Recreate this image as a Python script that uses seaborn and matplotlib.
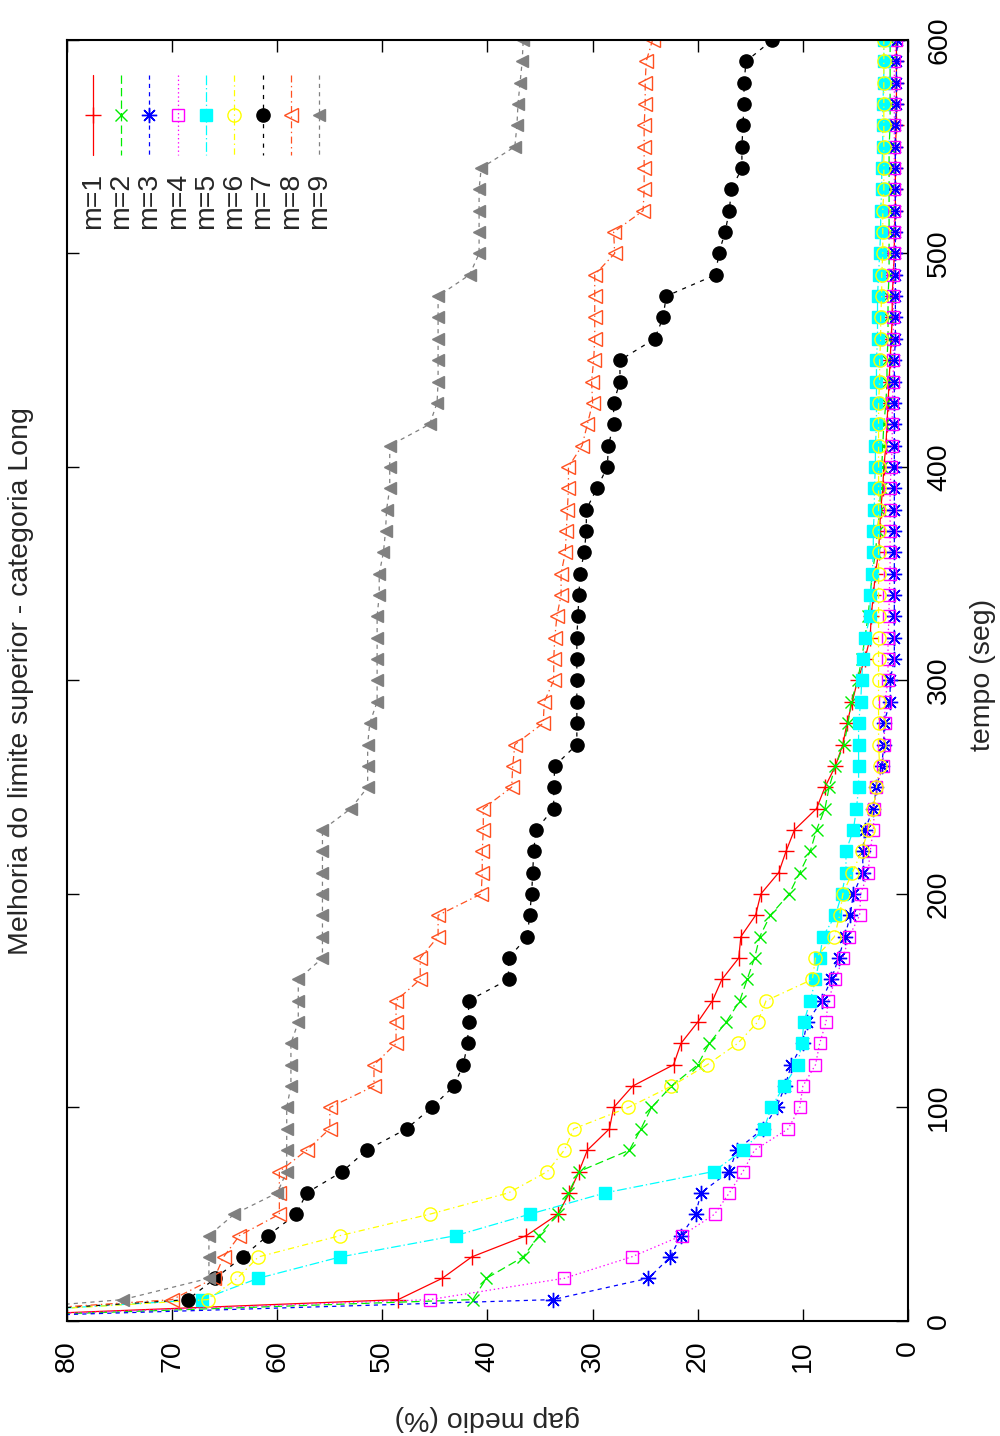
import matplotlib
matplotlib.use("Agg")
import matplotlib.pyplot as plt
import seaborn as sns

# tempo (seg), a cada 10 s
tempo = list(range(0, 610, 10))

# gap medio (%) por serie; 1o valor (t=0) fica fora da escala
gap_m1 = [100,
          48.5, 44.3, 41.5, 36.3, 33.3, 32.2, 31.3, 30.5, 28.4, 28.0,
          26.2, 22.3, 21.6, 20.0, 18.6, 17.7, 16.1, 15.9, 14.5, 14.0,
          12.3, 11.6, 10.8, 8.7, 7.9, 6.9, 6.2, 5.8, 5.3, 4.8,
          4.1, 3.6, 3.5, 3.3, 3.1, 2.8, 2.7, 2.6, 2.4, 2.3,
          2.1, 2.0, 1.9, 1.8, 1.7, 1.6, 1.5, 1.5, 1.4, 1.3,
          1.3, 1.2, 1.2, 1.2, 1.2, 1.1, 1.1, 1.1, 1.1, 1.1]
gap_m2 = [100,
          41.4, 40.1, 36.6, 35.1, 33.3, 32.3, 31.3, 26.5, 25.4, 24.4,
          22.5, 20.0, 18.9, 17.3, 16.0, 15.3, 14.6, 14.1, 13.1, 11.3,
          10.3, 9.3, 8.7, 7.9, 7.5, 6.9, 6.1, 5.7, 5.4, 4.8,
          4.4, 4.1, 3.8, 3.6, 3.4, 3.1, 2.9, 2.7, 2.6, 2.5,
          2.4, 2.3, 2.1, 2.0, 2.0, 1.9, 1.9, 1.9, 1.8, 1.8,
          1.8, 1.8, 1.8, 1.8, 1.8, 1.7, 1.7, 1.7, 1.7, 1.7]
gap_m3 = [100,
          33.8, 24.7, 22.6, 21.6, 20.2, 19.7, 17.0, 16.3, 13.8, 12.5,
          11.7, 11.1, 10.0, 9.6, 8.2, 7.3, 6.6, 6.0, 5.5, 5.2,
          4.3, 4.3, 4.1, 3.3, 3.0, 2.5, 2.3, 2.3, 1.7, 1.7,
          1.3, 1.3, 1.3, 1.3, 1.3, 1.3, 1.3, 1.3, 1.3, 1.3,
          1.3, 1.3, 1.3, 1.3, 1.3, 1.2, 1.2, 1.2, 1.2, 1.2,
          1.2, 1.2, 1.2, 1.2, 1.2, 1.2, 1.1, 1.1, 1.1, 1.0]
gap_m4 = [100,
          45.5, 32.7, 26.3, 21.5, 18.4, 17.0, 15.7, 14.6, 11.4, 10.3,
          10.0, 8.8, 8.4, 7.8, 7.6, 6.9, 6.2, 5.6, 4.6, 4.5,
          3.8, 3.6, 3.3, 3.2, 3.0, 2.4, 2.3, 2.2, 2.2, 1.9,
          1.9, 1.9, 1.8, 1.8, 1.7, 1.7, 1.7, 1.7, 1.7, 1.6,
          1.5, 1.5, 1.5, 1.4, 1.4, 1.4, 1.4, 1.4, 1.4, 1.3,
          1.3, 1.3, 1.3, 1.3, 1.3, 1.3, 1.3, 1.3, 1.3, 1.1]
gap_m5 = [100,
          67.2, 61.8, 54.0, 43.0, 36.0, 28.8, 18.5, 15.7, 13.7, 13.0,
          11.8, 10.5, 10.1, 9.9, 9.3, 8.8, 8.4, 8.1, 6.9, 6.3,
          5.9, 5.9, 5.2, 4.9, 4.7, 4.7, 4.7, 4.7, 4.5, 4.4,
          4.3, 4.1, 3.6, 3.6, 3.4, 3.3, 3.3, 3.2, 3.2, 3.1,
          3.1, 3.0, 3.0, 3.0, 3.0, 2.9, 2.9, 2.9, 2.8, 2.7,
          2.6, 2.6, 2.5, 2.5, 2.4, 2.4, 2.4, 2.3, 2.3, 2.3]
gap_m6 = [100,
          66.6, 63.8, 61.8, 54.0, 45.5, 38.0, 34.3, 32.7, 31.8, 26.6,
          22.5, 19.1, 16.2, 14.3, 13.5, 9.1, 8.8, 7.0, 6.5, 6.2,
          5.3, 4.4, 3.8, 3.3, 3.0, 2.7, 2.8, 2.8, 2.8, 2.8,
          2.8, 2.8, 2.8, 2.8, 2.8, 2.8, 2.8, 2.8, 2.8, 2.8,
          2.8, 2.8, 2.8, 2.7, 2.7, 2.6, 2.6, 2.5, 2.5, 2.4,
          2.4, 2.4, 2.3, 2.3, 2.3, 2.3, 2.3, 2.3, 2.3, 2.3]
gap_m7 = [100,
          68.5, 65.9, 63.3, 60.9, 58.2, 57.2, 53.8, 51.5, 47.7, 45.3,
          43.2, 42.3, 41.9, 41.8, 41.8, 38.0, 38.0, 36.2, 36.0, 35.8,
          35.7, 35.6, 35.4, 33.7, 33.7, 33.6, 31.5, 31.5, 31.5, 31.5,
          31.5, 31.5, 31.4, 31.3, 31.2, 30.8, 30.6, 30.6, 29.6, 28.6,
          28.5, 28.0, 28.0, 27.4, 27.4, 24.1, 23.3, 23.0, 18.3, 18.0,
          17.4, 17.0, 16.8, 15.8, 15.8, 15.7, 15.6, 15.6, 15.4, 12.9]
gap_m8 = [100,
          70.0, 66.0, 65.1, 63.6, 59.8, 59.8, 59.8, 57.2, 55.0, 55.0,
          50.8, 50.8, 48.7, 48.7, 48.7, 46.4, 46.4, 44.7, 44.7, 40.6,
          40.5, 40.5, 40.4, 40.4, 37.7, 37.6, 37.4, 34.7, 34.6, 33.7,
          33.7, 33.6, 33.4, 33.0, 33.0, 32.6, 32.5, 32.4, 32.3, 32.3,
          31.0, 30.5, 30.0, 30.1, 29.9, 29.8, 29.8, 29.8, 29.8, 27.9,
          28.0, 25.2, 25.1, 25.1, 25.1, 25.1, 25.0, 25.0, 24.9, 24.3]
gap_m9 = [100,
          74.7, 66.5, 66.5, 66.5, 64.1, 60.0, 59.1, 59.1, 59.1, 59.1,
          58.7, 58.7, 58.7, 58.0, 58.0, 58.0, 55.7, 55.7, 55.7, 55.7,
          55.7, 55.7, 55.7, 53.0, 51.4, 51.4, 51.4, 51.2, 50.5, 50.5,
          50.5, 50.5, 50.5, 50.3, 50.3, 49.9, 49.7, 49.6, 49.3, 49.3,
          49.3, 45.5, 44.8, 44.7, 44.7, 44.7, 44.7, 44.7, 41.7, 40.8,
          40.8, 40.8, 40.8, 40.6, 37.4, 37.2, 37.1, 36.9, 36.7, 36.6]

rotulos = ["m=1", "m=2", "m=3", "m=4", "m=5", "m=6", "m=7", "m=8", "m=9"]
gaps = [gap_m1, gap_m2, gap_m3, gap_m4, gap_m5, gap_m6, gap_m7, gap_m8, gap_m9]

#%% estilo tipo gnuplot (postscript)
cores = ["#ff0000", "#00ee00", "#0000ff", "#ff00ff", "#00ffff",
         "#ffff00", "#000000", "#ff5020", "#808080"]
tracos = ["-", (0, (6, 3)), (0, (3, 3)), (0, (1, 2)), (0, (7, 2, 1, 2)),
          (0, (4.5, 2.5, 1, 2.5)), (0, (3, 4)), (0, (5, 2.5, 1, 2.5)), (0, (3, 3))]
marcas = ["+", "x", (8, 2, 0), "s", "s", "o", "o", "<", "<"]
preench = ["none", "none", "none", "none", "fill", "none", "fill", "none", "fill"]
tam = [11, 9, 11, 9, 9, 9.5, 9.5, 9.5, 9]

FS = 20.5

sns.set_style("ticks")
plt.rcParams['font.family'] = ['Liberation Sans', 'DejaVu Sans']
plt.rcParams['lines.scale_dashes'] = False

fig = plt.figure(figsize=(10, 14.36), dpi=100)
ax = fig.add_axes([0.067, 0.0801, 0.841, 0.8921])

for i in range(9):
    fc = cores[i] if preench[i] == "fill" else "none"
    sns.lineplot(x=gaps[i], y=tempo, sort=False, estimator=None, ax=ax,
                 color=cores[i], linestyle=tracos[i], linewidth=0.9,
                 marker=marcas[i], markersize=tam[i], markerfacecolor=fc,
                 markeredgecolor=cores[i], markeredgewidth=1.0, legend=False)

ax.set_xlim(80, 0)
ax.set_ylim(0, 600)
ax.set_xticks(range(0, 81, 10))
ax.set_yticks(range(0, 601, 100))
ax.tick_params(direction='in', length=8.5, width=1.0, top=True, bottom=True,
               left=True, right=True, labelsize=FS, colors='black')
ax.tick_params(axis='y', labelleft=False, labelright=True, labelrotation=90, pad=13)
ax.tick_params(axis='x', labelrotation=90, pad=14)
for lbl in ax.get_yticklabels():
    lbl.set_va('center')
for s in ax.spines.values():
    s.set_linewidth(1.5)
    s.set_color('black')

# legenda na vertical (figura rodada)
for i in range(9):
    xc = (92.7 + 28.3 * i - 67) / 841
    fc = cores[i] if preench[i] == "fill" else "none"
    ax.plot([xc, xc], [0.9727, 0.9102], transform=ax.transAxes, color=cores[i],
            linestyle=tracos[i], linewidth=0.9, clip_on=False)
    ax.plot([xc], [0.9415], transform=ax.transAxes, color=cores[i],
            marker=marcas[i], markersize=tam[i], markerfacecolor=fc,
            markeredgecolor=cores[i], markeredgewidth=1.0, clip_on=False)
    ax.text(xc, 0.8962, rotulos[i], rotation=90, ha='center', va='top',
            transform=ax.transAxes, fontsize=FS)

fig.text(0.021, 1 - 681 / 1436, "Melhoria do limite superior - categoria Long",
         rotation=90, ha='center', va='center', fontsize=FS)
fig.text(0.983, 1 - 675 / 1436, "tempo (seg)", rotation=90,
         ha='center', va='center', fontsize=FS)
fig.text(0.4875, 18 / 1436, "gap medio (%)", rotation=180,
         ha='center', va='center', fontsize=FS)

fig.savefig("out.png", dpi=100)
